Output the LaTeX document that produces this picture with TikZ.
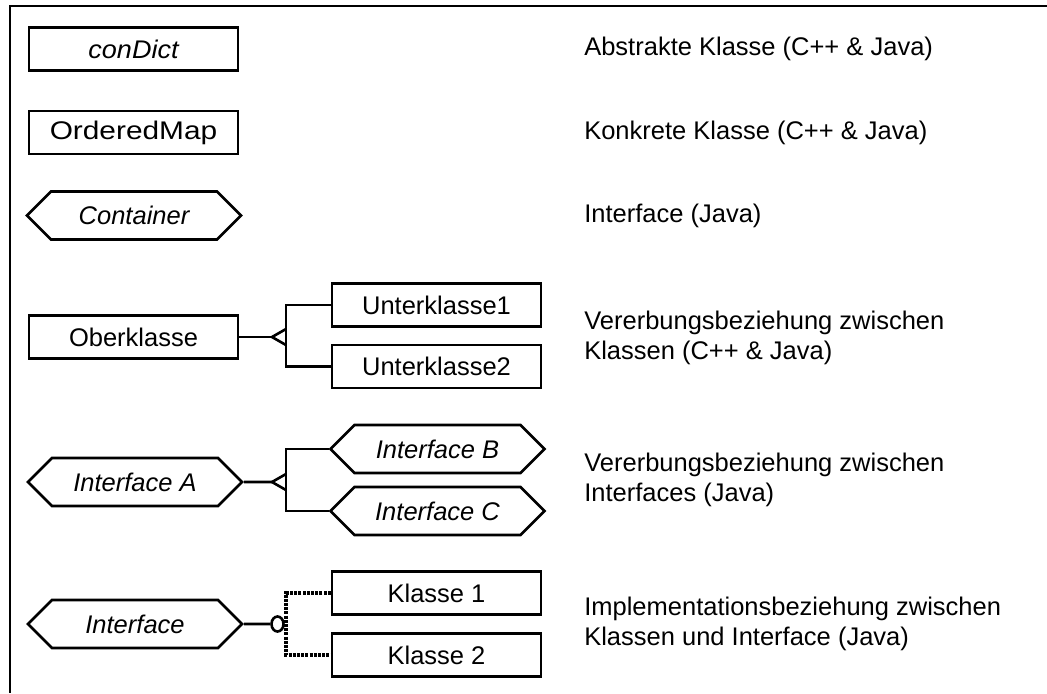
\documentclass[tikz,border=0pt]{standalone}
\usepackage{fontspec}
\setmainfont{Liberation Sans}
\usetikzlibrary{shapes.symbols,shapes.geometric}
\newcommand{\dgsize}{\fontsize{12.75}{15}\selectfont}

\begin{document}
\begin{tikzpicture}[x=0.5pt,y=-0.5pt,line width=1.3pt,
        every node/.style={font=\dgsize},
        klasse/.style={draw,rectangle,inner sep=0pt,minimum width=104.5pt,minimum height=21.5pt},
        iface/.style={draw,signal,signal to=west and east,signal pointer angle=90,
                      inner sep=0pt,minimum width=107pt,minimum height=24pt,font=\dgsize\itshape},
        erkl/.style={anchor=west,align=left,inner sep=0pt},
        ring/.style={draw,ellipse,inner sep=0pt,minimum width=6pt,minimum height=7.5pt},
        impl/.style={line width=2pt,dash pattern=on 1.5pt off 0.6pt}]
    \useasboundingbox (0,0) rectangle (1047,693);
    \draw (1047,6) -- (10,6) -- (10,693);

    % legend symbols
    \node[klasse, font=\dgsize\itshape] (cd)  at (133.5,49)    {\scalebox{1.06}[1]{conDict}};
    \node[klasse]                       (om)  at (133.5,132.5) {\scalebox{1.17}[1]{OrderedMap}};
    \node[iface]                        (ct)  at (134,215.5)   {Container};

    \node[klasse]                       (ok)  at (133.5,337)   {Oberklasse};
    \node[klasse]                       (uk1) at (436.5,305)   {Unterklasse1};
    \node[klasse]                       (uk2) at (436.5,366.5) {Unterklasse2};

    \node[iface]                        (ia)  at (135,482)     {Interface A};
    \node[iface]                        (ib)  at (437.5,449)   {Interface B};
    \node[iface]                        (ic)  at (437.5,511)   {Interface C};

    \node[iface]                        (if)  at (135,624)     {Interface};
    \node[klasse]                       (k1)  at (436.5,593)   {Klasse 1};
    \node[klasse]                       (k2)  at (436.5,655)   {Klasse 2};

    % explanations
    \node[erkl] (t1) at (583,49)    {Abstrakte Klasse (C++ \& Java)};
    \node[erkl] (t2) at (583,132.5) {Konkrete Klasse (C++ \& Java)};
    \node[erkl] (t3) at (583,215.5) {Interface (Java)};
    \node[erkl] (t4) at (583,338)   {Vererbungsbeziehung zwischen\\Klassen (C++ \& Java)};
    \node[erkl] (t5) at (583,480)   {Vererbungsbeziehung zwischen\\Interfaces (Java)};
    \node[erkl] (t6) at (583,624)   {Implementationsbeziehung zwischen\\Klassen und Interface (Java)};

    % inheritance between classes
    \coordinate (p1) at (272,337);
    \coordinate (f1) at (286,337);
    \draw (ok) -- (p1);
    \draw (f1) ++(0,-8) -- ++(-14,8) -- ++(14,8);
    \draw (uk1.west) -| (f1) |- (uk2.west);

    % inheritance between interfaces
    \coordinate (p2) at (272,482);
    \coordinate (f2) at (286,482);
    \draw (ia) -- (p2);
    \draw (f2) ++(0,-8) -- ++(-14,8) -- ++(14,8);
    \draw (ib.west) -| (f2) |- (ic.west);

    % implementation
    \node[ring] (o3) at (277.5,624) {};
    \coordinate (f3) at (286,624);
    \draw (if) -- (o3);
    \draw[impl] (k1.west) -| (f3) |- (k2.west);
\end{tikzpicture}
\end{document}
